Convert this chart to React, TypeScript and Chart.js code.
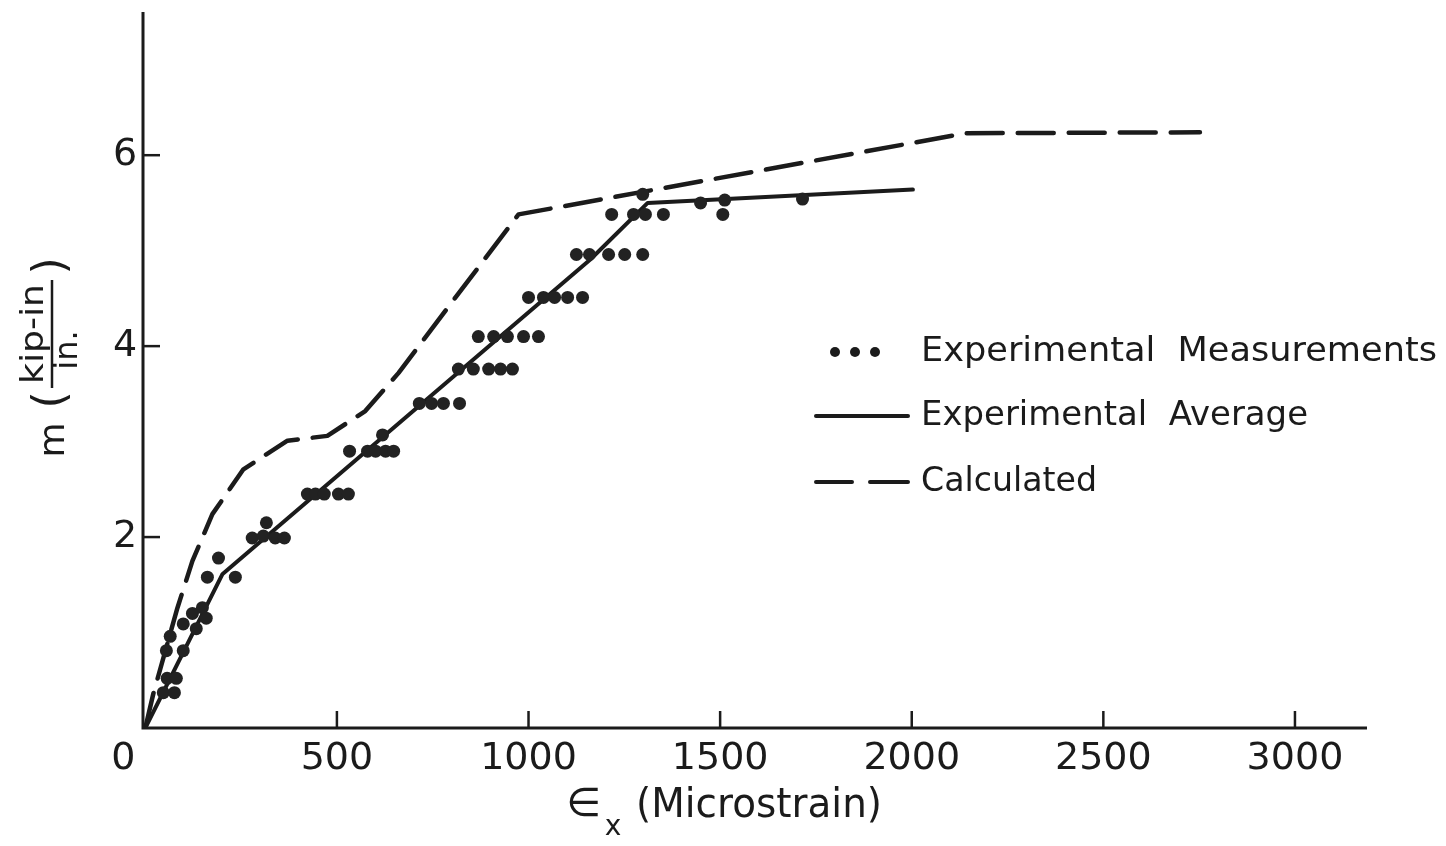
import React, { useEffect, useRef } from "react";
import { Chart, registerables } from "chart.js";

Chart.register(...registerables);

const FONT = '"DejaVu Sans", "Liberation Sans", sans-serif';
const INK = "#1b1b1b";

// Axis ticks
const xTickValues = [0, 500, 1000, 1500, 2000, 2500, 3000];
const yTickValues = [2, 4, 6];

// Experimental measurements (microstrain, kip-in/in.)
const measuredX = [
  47, 76, 57, 81, 55, 99, 65, 99, 133, 123, 149, 159, 162, 235, 191, 279, 308, 339, 363, 316,
  423, 444, 467, 504, 530, 533, 580, 601, 627, 648, 619, 715, 747, 778, 820, 817, 856, 896, 927,
  958, 869, 909, 945, 987, 1026, 1000, 1039, 1068, 1102, 1141, 1125, 1159, 1209, 1251, 1298,
  1217, 1274, 1305, 1352, 1298, 1449, 1512, 1507, 1715,
];
const measuredY = [
  0.37, 0.37, 0.52, 0.52, 0.81, 0.81, 0.96, 1.09, 1.04, 1.2, 1.26, 1.15, 1.58, 1.58, 1.78, 1.99,
  2.01, 1.99, 1.99, 2.15, 2.45, 2.45, 2.45, 2.45, 2.45, 2.9, 2.9, 2.9, 2.9, 2.9, 3.07, 3.4, 3.4,
  3.4, 3.4, 3.76, 3.76, 3.76, 3.76, 3.76, 4.1, 4.1, 4.1, 4.1, 4.1, 4.51, 4.51, 4.51, 4.51, 4.51,
  4.96, 4.96, 4.96, 4.96, 4.96, 5.38, 5.38, 5.38, 5.38, 5.59, 5.5, 5.53, 5.38, 5.54,
];

// Experimental average
const averageX = [0, 201, 1162, 1311, 2003];
const averageY = [0, 1.61, 4.91, 5.5, 5.64];

// Calculated response
const calculatedX = [0, 21, 84, 123, 175, 256, 371, 475, 574, 661, 817, 974, 2141, 2752];
const calculatedY = [0, 0.36, 1.26, 1.75, 2.24, 2.71, 3.01, 3.06, 3.32, 3.72, 4.55, 5.38, 6.23, 6.24];

const seriesLabels = ["Experimental  Measurements", "Experimental  Average", "Calculated"];

const toPoints = (xs: number[], ys: number[]) => xs.map((x, i) => ({ x, y: ys[i] }));

function drawText(
  ctx: CanvasRenderingContext2D,
  text: string,
  x: number,
  y: number,
  size: number,
  align: CanvasTextAlign = "center",
  width?: number
) {
  ctx.save();
  ctx.font = `${size}px ${FONT}`;
  ctx.fillStyle = INK;
  ctx.textBaseline = "middle";
  ctx.textAlign = align;
  const w = ctx.measureText(text).width;
  ctx.translate(x, y);
  if (width) ctx.scale(width / w, 1);
  ctx.fillText(text, 0, 0);
  ctx.restore();
}

const framePlugin = {
  id: "frame",
  afterDraw(chart: any) {
    const { ctx, chartArea, scales } = chart;
    const xs = scales.x;
    const ys = scales.y;
    const { left, right, top, bottom } = chartArea;

    ctx.save();
    ctx.strokeStyle = INK;
    ctx.lineCap = "butt";

    // axes
    ctx.lineWidth = 3;
    ctx.beginPath();
    ctx.moveTo(left, top);
    ctx.lineTo(left, bottom);
    ctx.lineTo(right, bottom);
    ctx.stroke();

    // inward tick marks
    ctx.lineWidth = 2.5;
    xTickValues.forEach((v) => {
      if (v === 0) return;
      const px = xs.getPixelForValue(v);
      ctx.beginPath();
      ctx.moveTo(px, bottom);
      ctx.lineTo(px, bottom - 17);
      ctx.stroke();
    });
    yTickValues.forEach((v) => {
      const py = ys.getPixelForValue(v);
      ctx.beginPath();
      ctx.moveTo(left, py);
      ctx.lineTo(left + 17, py);
      ctx.stroke();
    });

    // tick labels
    xTickValues.forEach((v) => {
      const px = xs.getPixelForValue(v) - (v === 0 ? 22 : 0);
      drawText(ctx, String(v), px, bottom + 31, 38);
    });
    yTickValues.forEach((v) => {
      drawText(ctx, String(v), left - 18, ys.getPixelForValue(v), 38);
    });

    // x title: ∈x (Microstrain)
    drawText(ctx, "\u2208", 584, 806, 40);
    drawText(ctx, "x", 613, 828, 28);
    drawText(ctx, "(Microstrain)", 636, 807, 40, "left", 246);

    // y title: m ( kip-in / in. ), rotated
    ctx.save();
    ctx.translate(52, 0);
    ctx.rotate(-Math.PI / 2);
    drawText(ctx, "m", -440, 3, 36);
    drawText(ctx, "(", -400, 1, 44);
    drawText(ctx, "kip-in", -334, -17, 32, "center", 100);
    drawText(ctx, "in.", -350, 17, 32);
    ctx.lineWidth = 2.5;
    ctx.beginPath();
    ctx.moveTo(-388, 0);
    ctx.lineTo(-280, 0);
    ctx.stroke();
    drawText(ctx, ")", -266, 1, 44);
    ctx.restore();

    // legend
    const textX = 921;
    const rowY = [352, 416, 482];
    ctx.fillStyle = INK;
    [835, 855, 875].forEach((dx) => {
      ctx.beginPath();
      ctx.arc(dx, rowY[0], 5, 0, Math.PI * 2);
      ctx.fill();
    });
    ctx.lineWidth = 4;
    ctx.lineCap = "round";
    ctx.beginPath();
    ctx.moveTo(816, rowY[1]);
    ctx.lineTo(908, rowY[1]);
    ctx.stroke();
    ctx.beginPath();
    ctx.moveTo(816, rowY[2]);
    ctx.lineTo(852, rowY[2]);
    ctx.moveTo(870, rowY[2]);
    ctx.lineTo(908, rowY[2]);
    ctx.stroke();
    const labels = chart.data.datasets.map((d: any) => d.label);
    drawText(ctx, labels[0], textX, rowY[0], 34, "left", 516);
    drawText(ctx, labels[1], textX, rowY[1], 34, "left", 387);
    drawText(ctx, labels[2], textX, rowY[2], 34, "left", 176);

    ctx.restore();
  },
};

export default function App() {
  const canvasRef = useRef<HTMLCanvasElement | null>(null);

  useEffect(() => {
    if (!canvasRef.current) return;
    const chart = new Chart(canvasRef.current, {
      type: "scatter",
      data: {
        datasets: [
          {
            label: seriesLabels[0],
            data: toPoints(measuredX, measuredY),
            pointRadius: 6.5,
            pointBackgroundColor: "#222222",
            pointBorderWidth: 0,
            showLine: false,
          },
          {
            label: seriesLabels[1],
            data: toPoints(averageX, averageY),
            showLine: true,
            borderColor: INK,
            borderWidth: 4,
            pointRadius: 0,
            tension: 0,
            borderJoinStyle: "round",
            borderCapStyle: "round",
          },
          {
            label: seriesLabels[2],
            data: toPoints(calculatedX, calculatedY),
            showLine: true,
            borderColor: INK,
            borderWidth: 4.5,
            borderDash: [36, 15],
            pointRadius: 0,
            tension: 0,
            borderJoinStyle: "round",
            borderCapStyle: "round",
          },
        ],
      },
      options: {
        animation: false,
        responsive: false,
        devicePixelRatio: 1,
        layout: { padding: { left: 143, top: 12, right: 79, bottom: 118 } },
        plugins: { legend: { display: false }, tooltip: { enabled: false } },
        scales: {
          x: { type: "linear", min: -6, max: 3188, display: false },
          y: { type: "linear", min: 0, max: 7.5, display: false },
        },
      },
      plugins: [framePlugin],
    });
    return () => chart.destroy();
  }, []);

  return (
    <div style={{ position: "fixed", left: 0, top: 0, width: 1446, height: 846, background: "#fff" }}>
      <canvas ref={canvasRef} width={1446} height={846} />
    </div>
  );
}
